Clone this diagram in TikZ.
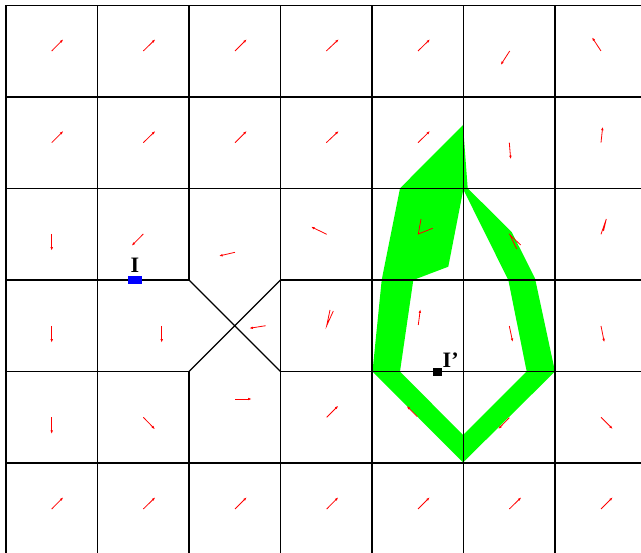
\documentclass[tikz,border=0pt]{standalone}
\usepackage{fontspec}
\setmainfont{Liberation Serif}
\usetikzlibrary{arrows.meta}
\begin{document}
\begin{tikzpicture}[x=1pt,y=-1pt,
  gridline/.style={black,line width=1.1pt},
  vec/.style={red,line width=0.8pt,-{Latex[length=3.6pt,width=2.6pt]}},
  vline/.style={red,line width=0.8pt},
  lbl/.style={font=\fontsize{22}{22}\selectfont\bfseries,inner sep=0pt}]
\useasboundingbox[fill=white] (0,0) rectangle (641,553);
% green band
\fill[green,even odd rule]
  (463,125) -- (467.7,188.3) -- (511.7,232) -- (535,278.3) -- (555,371.5) -- (463,462.5)
  -- (372.5,371.5) -- (381.7,280) -- (400,188.3) -- cycle
  (463.3,189.5) -- (508.3,280) -- (526.7,371.5) -- (463,435) -- (400,371.5)
  -- (413.3,280) -- (448.3,266.7) -- cycle;
% grid
\foreach \x in {6,97.5,280.5,372,463.5,555} \draw[gridline] (\x,5.5) -- (\x,553);
\draw[gridline] (189,5.5) -- (189,280) (189,371.5) -- (189,553);
\foreach \y in {5.5,97,188.5,463} \draw[gridline] (6,\y) -- (641,\y);
\draw[gridline] (6,280) -- (189,280) (280.5,280) -- (641,280);
\draw[gridline] (6,371.5) -- (189,371.5) (280.5,371.5) -- (641,371.5);
\draw[gridline] (189,280) -- (280.5,371.5) (189,371.5) -- (280.5,280);
% vectors row 1
\draw[vec] (51.7,51) -- (63.3,39.3);
\draw[vec] (143.3,51) -- (155.3,39.3);
\draw[vec] (235,51) -- (246.7,39.3);
\draw[vec] (326.3,51) -- (338.7,39.3);
\draw[vec] (418,51) -- (430,39.3);
\draw[vec] (509.7,51) -- (500.7,65);
\draw[vec] (601,51) -- (592,37.3);
% row 2
\draw[vec] (51.7,142.7) -- (63.3,131);
\draw[vec] (143.3,142.7) -- (155.3,131);
\draw[vec] (235,142.7) -- (246.7,131);
\draw[vec] (326.3,142.7) -- (338.7,131);
\draw[vec] (418,142.7) -- (430,131);
\draw[vec] (509.3,142.7) -- (510.7,159.3);
\draw[vec] (601,142.7) -- (602.7,126.7);
% row 3
\draw[vec] (51.7,234) -- (51.7,250.7);
\draw[vec] (143.3,234) -- (131.7,245.7);
\draw[vec] (235,252.3) -- (219,256);
\draw[vec] (326.7,234.3) -- (311,226.7);
\draw[vline] (421,219) -- (418.3,234) -- (432.7,228.3);
\draw[vline] (516.7,249) -- (510,235) -- (520.7,245);
\draw[vline] (601,234.3) -- (606.3,219) -- (603.5,231);
% row 4
\draw[vec] (51.7,326) -- (51.7,342.7);
\draw[vec] (161.7,326) -- (161.7,342.7);
\draw[vec] (265.7,325.7) -- (249.3,328.3);
\draw[vline] (330,310) -- (326.7,325.7) -- (333.3,311);
\draw[vec] (418.3,325) -- (420.3,309.3);
\draw[vec] (509.3,326) -- (512.7,342);
\draw[vec] (601,326) -- (604.3,342.3);
% row 5
\draw[vec] (51.7,417.3) -- (51.7,434);
\draw[vec] (143.3,417.3) -- (155,429.3);
\draw[vec] (235,399) -- (251.7,399);
\draw[vec] (326.7,417.3) -- (338.3,405.7);
\draw[vec] (417.3,416.7) -- (406.7,406);
\draw[vec] (509.3,417.7) -- (498.3,429);
\draw[vec] (601,417.3) -- (612.7,429);
% row 6
\draw[vec] (51.7,509) -- (63.3,497.3);
\draw[vec] (143.3,509) -- (155.3,497.3);
\draw[vec] (235,509) -- (246.7,497.3);
\draw[vec] (326.7,509) -- (338.3,497.3);
\draw[vec] (418,509) -- (429.7,497.3);
\draw[vec] (509.3,509) -- (521.3,497.3);
\draw[vec] (601,509) -- (612.7,497.3);
% markers and labels
\fill[blue] (128,276) rectangle (142.3,284.3);
\fill[black] (433.3,367.7) rectangle (441.7,376);
\node[lbl,anchor=base] (labI) at (135,272.7) {I};
\node[lbl,anchor=base west] (labIp) at (442.5,367.3) {I'};
\end{tikzpicture}
\end{document}
